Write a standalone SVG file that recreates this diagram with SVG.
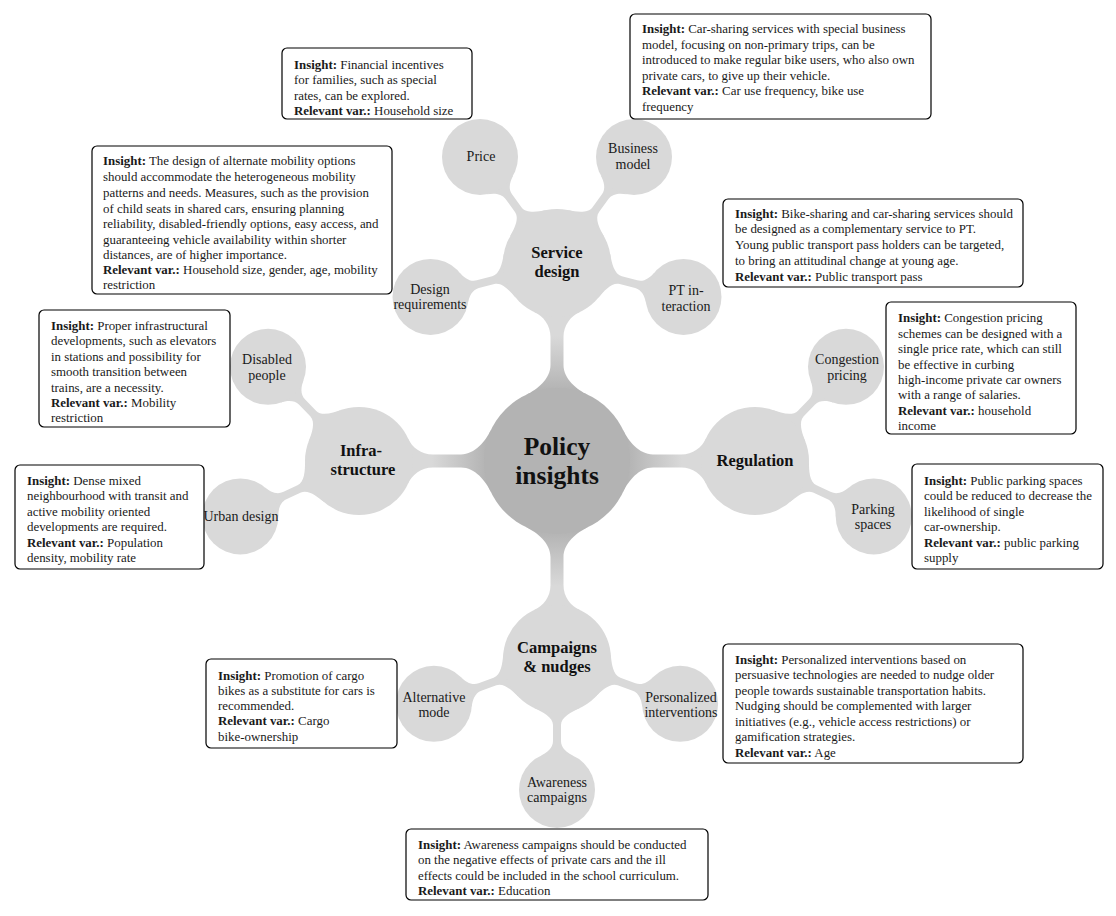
<svg xmlns="http://www.w3.org/2000/svg" xmlns:xlink="http://www.w3.org/1999/xlink" width="1116" height="916" viewBox="0 0 1116 916">
<style>
.bx{fill:#fff;stroke:#000;stroke-width:1.2}
.t{font-family:"Liberation Serif","Times New Roman",serif;font-size:12.9px;fill:#1a1a1a}
.b{font-weight:bold}
.l2{font-family:"Liberation Serif","Times New Roman",serif;font-size:14px;fill:#1a1a1a;text-anchor:middle}
.l1{font-family:"Liberation Serif","Times New Roman",serif;font-size:16.5px;font-weight:bold;fill:#111;text-anchor:middle}
.l0{font-family:"Liberation Serif","Times New Roman",serif;font-size:25.5px;font-weight:bold;fill:#111;text-anchor:middle}
.c0{fill:#b3b3b3}
.c1{fill:#d9d9d9}
.c2{fill:#d9d9d9}
</style>
<defs>
<linearGradient id="g1" gradientUnits="userSpaceOnUse" x1="70" y1="0" x2="125" y2="0">
<stop offset="0" stop-color="#b3b3b3"/>
<stop offset="1" stop-color="#d9d9d9"/>
</linearGradient>
<path id="k1" fill="url(#g1)" d="M66.2,30.9 C71.3,20 82,6.5 96,6.5 L124,6.5 C136,6.5 144.9,13.7 149.1,22.8 L149.1,-22.8 C144.9,-13.7 136,-6.5 124,-6.5 L96,-6.5 C82,-6.5 71.3,-20 66.2,-30.9 Z"/>
<path id="k2" fill="#d9d9d9" d="M48.9,22.8 C52.7,14.6 58,4 66,4 L82,4 C89,4 93.6,9.8 96.6,16.1 L96.6,-16.1 C93.6,-9.8 89,-4 82,-4 L66,-4 C58,-4 52.7,-14.6 48.9,-22.8 Z"/>
</defs>
<rect width="1116" height="916" fill="#fff"/>
<g id="connectors">
<use xlink:href="#k1" transform="translate(557,461) rotate(-90)"/>
<use xlink:href="#k1" transform="translate(557,461) rotate(90)"/>
<use xlink:href="#k1" transform="translate(557,461) rotate(180)"/>
<use xlink:href="#k1" transform="translate(557,461)"/>
<use xlink:href="#k2" transform="translate(557,263) rotate(-126)"/>
<use xlink:href="#k2" transform="translate(557,263) rotate(-54)"/>
<use xlink:href="#k2" transform="translate(557,263) rotate(165)"/>
<use xlink:href="#k2" transform="translate(557,263) rotate(15)"/>
<use xlink:href="#k2" transform="translate(359,461) rotate(-134)"/>
<use xlink:href="#k2" transform="translate(359,461) rotate(155)"/>
<use xlink:href="#k2" transform="translate(755,461) rotate(-46)"/>
<use xlink:href="#k2" transform="translate(755,461) rotate(25)"/>
<use xlink:href="#k2" transform="translate(557,659) rotate(160)"/>
<use xlink:href="#k2" transform="translate(557,659) rotate(20)"/>
<use xlink:href="#k2" transform="translate(557,659) rotate(90)"/>
</g>
<g id="policy-insights">
<circle class="c0" cx="557" cy="461" r="73"/>
<text class="l0" x="557" y="455">Policy</text>
<text class="l0" x="557" y="484">insights</text>
</g>
<g id="service-design">
<circle class="c1" cx="557" cy="263" r="54"/>
<text class="l1" x="557" y="258">Service</text>
<text class="l1" x="557" y="277">design</text>
</g>
<g id="infrastructure">
<circle class="c1" cx="359" cy="461" r="54"/>
<text class="l1" x="361" y="456">Infra-</text>
<text class="l1" x="363" y="475">structure</text>
</g>
<g id="regulation">
<circle class="c1" cx="755" cy="461" r="54"/>
<text class="l1" x="755" y="466">Regulation</text>
</g>
<g id="campaigns">
<circle class="c1" cx="557" cy="659" r="54"/>
<text class="l1" x="557" y="653">Campaigns</text>
<text class="l1" x="557" y="672">&amp; nudges</text>
</g>
<g id="price">
<circle class="c2" cx="480" cy="157" r="38"/>
<text class="l2" x="481" y="161">Price</text>
</g>
<g id="business-model">
<circle class="c2" cx="634" cy="157" r="38"/>
<text class="l2" x="633" y="153">Business</text>
<text class="l2" x="633" y="169">model</text>
</g>
<g id="design-requirements">
<circle class="c2" cx="430.5" cy="296.9" r="38"/>
<text class="l2" x="430" y="294">Design</text>
<text class="l2" x="430" y="309">requirements</text>
</g>
<g id="pt-interaction">
<circle class="c2" cx="683.5" cy="296.9" r="38"/>
<text class="l2" x="686" y="295">PT in-</text>
<text class="l2" x="686" y="311">teraction</text>
</g>
<g id="disabled-people">
<circle class="c2" cx="268" cy="366.8" r="38"/>
<text class="l2" x="267" y="364">Disabled</text>
<text class="l2" x="267" y="380">people</text>
</g>
<g id="urban-design">
<circle class="c2" cx="240.3" cy="516.4" r="38"/>
<text class="l2" x="241" y="521">Urban design</text>
</g>
<g id="congestion-pricing">
<circle class="c2" cx="846" cy="366.8" r="38"/>
<text class="l2" x="847" y="364">Congestion</text>
<text class="l2" x="847" y="380">pricing</text>
</g>
<g id="parking-spaces">
<circle class="c2" cx="873.7" cy="516.4" r="38"/>
<text class="l2" x="873" y="514">Parking</text>
<text class="l2" x="873" y="529">spaces</text>
</g>
<g id="alternative-mode">
<circle class="c2" cx="433.9" cy="703.8" r="38"/>
<text class="l2" x="434" y="702">Alternative</text>
<text class="l2" x="434" y="717">mode</text>
</g>
<g id="personalized-interventions">
<circle class="c2" cx="680.1" cy="703.8" r="38"/>
<text class="l2" x="681" y="702">Personalized</text>
<text class="l2" x="681" y="717">interventions</text>
</g>
<g id="awareness-campaigns">
<circle class="c2" cx="557" cy="790" r="38"/>
<text class="l2" x="557" y="787">Awareness</text>
<text class="l2" x="557" y="802">campaigns</text>
</g>
<g id="box-price">
<rect class="bx" x="282" y="48" width="190" height="71" rx="5"/>
<text class="t" x="294" y="69"><tspan class="b">Insight:</tspan> Financial incentives</text>
<text class="t" x="294" y="84">for families, such as special</text>
<text class="t" x="294" y="100">rates, can be explored.</text>
<text class="t" x="294" y="115"><tspan class="b">Relevant var.:</tspan> Household size</text>
</g>
<g id="box-business">
<rect class="bx" x="630" y="14" width="301" height="105" rx="5"/>
<text class="t" x="642" y="33"><tspan class="b">Insight:</tspan> Car-sharing services with special business</text>
<text class="t" x="642" y="49">model, focusing on non-primary trips, can be</text>
<text class="t" x="642" y="64">introduced to make regular bike users, who also own</text>
<text class="t" x="642" y="80">private cars, to give up their vehicle.</text>
<text class="t" x="642" y="95"><tspan class="b">Relevant var.:</tspan> Car use frequency, bike use</text>
<text class="t" x="642" y="111">frequency</text>
</g>
<g id="box-design">
<rect class="bx" x="92" y="146" width="300" height="148" rx="5"/>
<text class="t" x="103" y="165"><tspan class="b">Insight:</tspan> The design of alternate mobility options</text>
<text class="t" x="103" y="181">should accommodate the heterogeneous mobility</text>
<text class="t" x="103" y="197">patterns and needs. Measures, such as the provision</text>
<text class="t" x="103" y="213">of child seats in shared cars, ensuring planning</text>
<text class="t" x="103" y="228">reliability, disabled-friendly options, easy access, and</text>
<text class="t" x="103" y="244">guaranteeing vehicle availability within shorter</text>
<text class="t" x="103" y="259">distances, are of higher importance.</text>
<text class="t" x="103" y="274"><tspan class="b">Relevant var.:</tspan> Household size, gender, age, mobility</text>
<text class="t" x="103" y="289">restriction</text>
</g>
<g id="box-pt">
<rect class="bx" x="723" y="199" width="300" height="88" rx="5"/>
<text class="t" x="735" y="218"><tspan class="b">Insight:</tspan> Bike-sharing and car-sharing services should</text>
<text class="t" x="735" y="233">be designed as a complementary service to PT.</text>
<text class="t" x="735" y="249">Young public transport pass holders can be targeted,</text>
<text class="t" x="735" y="265">to bring an attitudinal change at young age.</text>
<text class="t" x="735" y="281"><tspan class="b">Relevant var.:</tspan> Public transport pass</text>
</g>
<g id="box-disabled">
<rect class="bx" x="39" y="310" width="191" height="117" rx="5"/>
<text class="t" x="51" y="330"><tspan class="b">Insight:</tspan> Proper infrastructural</text>
<text class="t" x="51" y="345">developments, such as elevators</text>
<text class="t" x="51" y="361">in stations and possibility for</text>
<text class="t" x="51" y="376">smooth transition between</text>
<text class="t" x="51" y="392">trains, are a necessity.</text>
<text class="t" x="51" y="407"><tspan class="b">Relevant var.:</tspan> Mobility</text>
<text class="t" x="51" y="422">restriction</text>
</g>
<g id="box-congestion">
<rect class="bx" x="886" y="302" width="190" height="132" rx="5"/>
<text class="t" x="898" y="322"><tspan class="b">Insight:</tspan> Congestion pricing</text>
<text class="t" x="898" y="338">schemes can be designed with a</text>
<text class="t" x="898" y="353">single price rate, which can still</text>
<text class="t" x="898" y="369">be effective in curbing</text>
<text class="t" x="898" y="384">high-income private car owners</text>
<text class="t" x="898" y="399">with a range of salaries.</text>
<text class="t" x="898" y="415"><tspan class="b">Relevant var.:</tspan> household</text>
<text class="t" x="898" y="430">income</text>
</g>
<g id="box-urban">
<rect class="bx" x="15" y="465" width="189" height="104" rx="5"/>
<text class="t" x="27" y="485"><tspan class="b">Insight:</tspan> Dense mixed</text>
<text class="t" x="27" y="500">neighbourhood with transit and</text>
<text class="t" x="27" y="516">active mobility oriented</text>
<text class="t" x="27" y="531">developments are required.</text>
<text class="t" x="27" y="547"><tspan class="b">Relevant var.:</tspan> Population</text>
<text class="t" x="27" y="562">density, mobility rate</text>
</g>
<g id="box-parking">
<rect class="bx" x="912" y="464" width="191" height="105" rx="5"/>
<text class="t" x="924" y="485"><tspan class="b">Insight:</tspan> Public parking spaces</text>
<text class="t" x="924" y="500">could be reduced to decrease the</text>
<text class="t" x="924" y="516">likelihood of single</text>
<text class="t" x="924" y="531">car-ownership.</text>
<text class="t" x="924" y="547"><tspan class="b">Relevant var.:</tspan> public parking</text>
<text class="t" x="924" y="562">supply</text>
</g>
<g id="box-alternative">
<rect class="bx" x="206" y="659" width="191" height="89" rx="5"/>
<text class="t" x="218" y="680"><tspan class="b">Insight:</tspan> Promotion of cargo</text>
<text class="t" x="218" y="695">bikes as a substitute for cars is</text>
<text class="t" x="218" y="710">recommended.</text>
<text class="t" x="218" y="725"><tspan class="b">Relevant var.:</tspan> Cargo</text>
<text class="t" x="218" y="741">bike-ownership</text>
</g>
<g id="box-personalized">
<rect class="bx" x="723" y="644" width="300" height="119" rx="5"/>
<text class="t" x="735" y="664"><tspan class="b">Insight:</tspan> Personalized interventions based on</text>
<text class="t" x="735" y="679">persuasive technologies are needed to nudge older</text>
<text class="t" x="735" y="695">people towards sustainable transportation habits.</text>
<text class="t" x="735" y="710">Nudging should be complemented with larger</text>
<text class="t" x="735" y="726">initiatives (e.g., vehicle access restrictions) or</text>
<text class="t" x="735" y="741">gamification strategies.</text>
<text class="t" x="735" y="757"><tspan class="b">Relevant var.:</tspan> Age</text>
</g>
<g id="box-awareness">
<rect class="bx" x="406" y="829" width="302" height="71" rx="5"/>
<text class="t" x="418" y="849"><tspan class="b">Insight:</tspan> Awareness campaigns should be conducted</text>
<text class="t" x="418" y="864">on the negative effects of private cars and the ill</text>
<text class="t" x="418" y="880">effects could be included in the school curriculum.</text>
<text class="t" x="418" y="895"><tspan class="b">Relevant var.:</tspan> Education</text>
</g>
</svg>
